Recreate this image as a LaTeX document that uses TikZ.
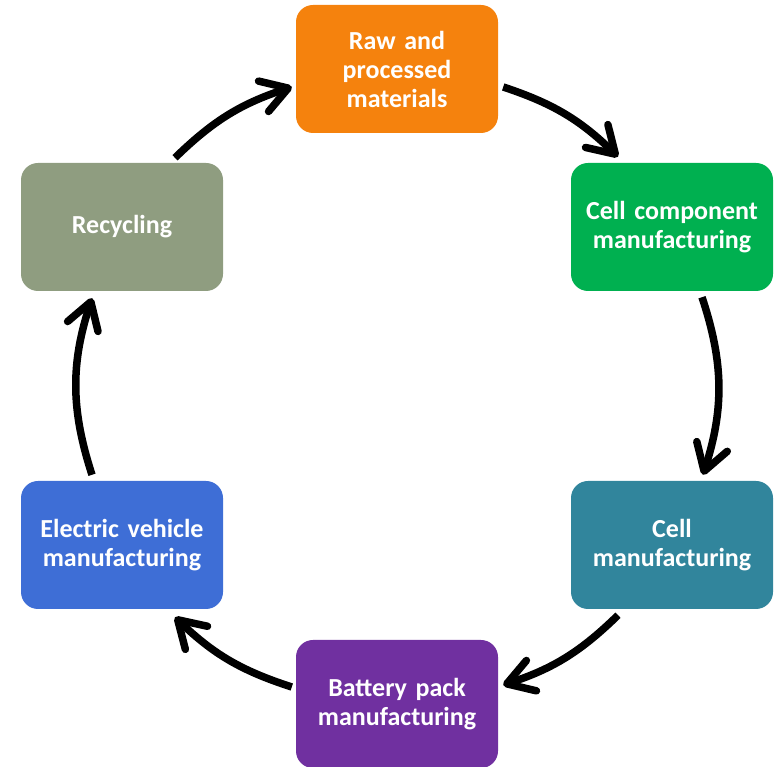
\documentclass[tikz,border=0pt]{standalone}
\usepackage{fontspec}
\setmainfont{Carlito}
\usetikzlibrary{arrows.meta}

\begin{document}
\begin{tikzpicture}[x=1pt,y=1pt]
  % Colors
  \definecolor{rawc}{HTML}{F5820D}
  \definecolor{compc}{HTML}{00B050}
  \definecolor{cellc}{HTML}{31859C}
  \definecolor{packc}{HTML}{7030A0}
  \definecolor{evc}{HTML}{3E6ED6}
  \definecolor{recyc}{HTML}{8F9D80}
  % Styles
  \tikzstyle{stage}=[rounded corners=17pt,minimum width=202pt,minimum height=128pt,
    text width=196pt,align=center,inner sep=0pt,text=white,
    font=\bfseries\fontsize{26}{29}\selectfont]
  \tikzstyle{flow}=[line width=7.5pt,-{Straight Barb[length=26pt,width=32pt,round]}]

  \useasboundingbox (0,0) rectangle (778,767);

  % The stages
  \node[stage,fill=rawc]  (raw)  at (397,698) {Raw and\\processed\\materials};
  \node[stage,fill=compc] (comp) at (672,540) {Cell component\\manufacturing};
  \node[stage,fill=cellc] (cell) at (672,222) {Cell\\manufacturing};
  \node[stage,fill=packc] (pack) at (397,63)  {Battery pack\\manufacturing};
  \node[stage,fill=evc]   (ev)   at (122,222) {Electric vehicle\\manufacturing};
  \node[stage,fill=recyc] (rec)  at (122,540) {Recycling};

  % The cycle
  \draw[flow] ([shift={(5,-18)}]raw.east)   to[bend left=13] ([shift={(-54,6)}]comp.north);
  \draw[flow] ([shift={(30,-6)}]comp.south) to[bend left=18] ([shift={(31,6)}]cell.north);
  \draw[flow] ([shift={(-54,-6)}]cell.south) to[bend left=13] ([shift={(5,19)}]pack.east);
  \draw[flow] ([shift={(-4,17)}]pack.west)  to[bend left=13] ([shift={(53,-8)}]ev.south);
  \draw[flow] ([shift={(-30,6)}]ev.north)   to[bend left=18] ([shift={(-30,-7)}]rec.south);
  \draw[flow] ([shift={(53,5)}]rec.north)   to[bend left=13] ([shift={(-4,-18)}]raw.west);
\end{tikzpicture}
\end{document}
